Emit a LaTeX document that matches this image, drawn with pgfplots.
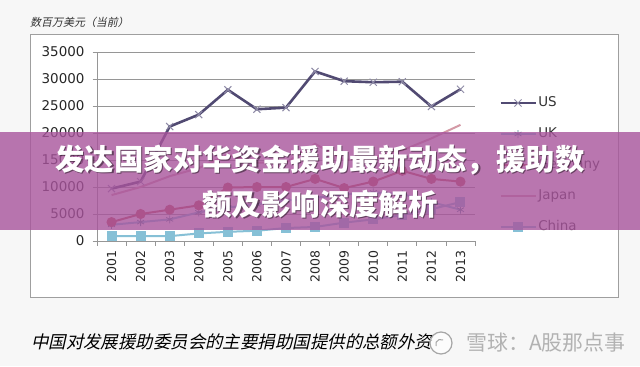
\documentclass[border=0pt]{standalone}
\usepackage{fontspec}
\usepackage{pgfplots}
\pgfplotsset{compat=1.18}
\setmainfont{DejaVu Sans}
\newfontfamily\cjk{Noto Sans CJK SC}
\newfontfamily\cjki{Noto Sans CJK SC}[FakeSlant=0.22]
\definecolor{bgc}{HTML}{F7F7F7}
\definecolor{usc}{HTML}{514A72}
\definecolor{usm}{HTML}{8E8AA6}
\definecolor{ukc}{HTML}{7CC3DA}
\definecolor{dec}{HTML}{C0504D}
\definecolor{jpc}{HTML}{D49AA6}
\definecolor{cnc}{HTML}{86C0D6}
\definecolor{bannerc}{HTML}{A8549C}
\definecolor{gridc}{HTML}{969696}
\begin{document}
\begin{tikzpicture}[x=1bp,y=1bp]
\fill[bgc] (0,0) rectangle (640,366);
\useasboundingbox (0,0) rectangle (640,366);
\draw[gray!75, fill=white, line width=0.8bp] (30,69) rectangle (618,332);
\node[anchor=west, inner sep=0, text=black!80, font=\cjki\fontsize{11}{12}\selectfont] at (30,344) {数百万美元（当前）};
\begin{axis}[
  at={(97bp,125bp)}, anchor=south west,
  scale only axis, width=378bp, height=189bp,
  xmin=-0.5, xmax=12.5, ymin=0, ymax=35000,
  axis x line*=bottom, axis y line*=left,
  axis line style={gridc, line width=0.8bp},
  ytick={0,5000,...,35000},
  minor ytick={0,5000,...,35000},
  scaled y ticks=false,
  /pgf/number format/1000 sep={},
  /pgf/number format/assume math mode=true,
  ymajorgrids, grid style={gridc, line width=0.8bp},
  xtick={0,...,12},
  xticklabels={2001,2002,2003,2004,2005,2006,2007,2008,2009,2010,2011,2012,2013},
  minor xtick={-0.5,0.5,...,12.5},
  tick align=outside,
  major tick length=0pt, minor tick length=4.5bp,
  tick style={gridc, line width=0.8bp},
  xticklabel style={rotate=90, anchor=east, text=black!85, font=\fontsize{12.5}{13}\selectfont},
  yticklabel style={text=black!85, font=\fontsize{13.5}{14}\selectfont},
  xticklabel shift=6bp,
  yticklabel shift=9bp,
  legend style={at={(axis description cs:1,0.402)}, anchor=west, xshift=24bp,
    draw=none, fill=none, inner sep=0pt, row sep=15bp,
    font=\fontsize{13.5}{14}\selectfont, text=black!80,
    nodes={inner sep=1.5bp, text height=10bp, text depth=3bp}},
  legend cell align=left,
  legend image code/.code={\draw[mark repeat=2,mark phase=2,#1] plot coordinates {(0bp,0bp) (17.5bp,0bp) (35bp,0bp)};},
]
\addplot[usc, line width=2.6bp, mark=x, mark size=5bp, mark options={usm, line width=1bp}]
  coordinates {(0,9700) (1,11000) (2,21200) (3,23400) (4,28000) (5,24400) (6,24700) (7,31400) (8,29600) (9,29400) (10,29500) (11,24900) (12,28100)};
\addlegendentry{US}
\addplot[ukc, line width=2bp, mark=asterisk, mark size=4bp, mark options={ukc!70!black, line width=0.8bp}]
  coordinates {(0,3000) (1,3500) (2,4000) (3,5300) (4,6200) (5,6800) (6,7500) (7,8000) (8,8600) (9,9000) (10,8700) (11,7200) (12,5800)};
\addlegendentry{UK}
\addplot[dec, line width=2bp, mark=*, mark size=4bp, mark options={fill=dec}]
  coordinates {(0,3500) (1,5000) (2,5800) (3,6600) (4,9900) (5,10000) (6,10000) (7,11500) (8,9800) (9,11000) (10,13000) (11,11500) (12,11000)};
\addlegendentry{Germany}
\addplot[jpc, line width=2bp]
  coordinates {(0,8500) (1,10000) (2,12000) (3,13500) (4,16000) (5,14500) (6,14500) (7,18000) (8,15000) (9,15500) (10,16800) (11,19000) (12,21500)};
\addlegendentry{Japan}
\addplot[cnc, line width=2bp, mark=square*, mark size=4bp, mark options={fill=cnc}]
  coordinates {(0,900) (1,900) (2,900) (3,1400) (4,1700) (5,1900) (6,2400) (7,2600) (8,3400) (9,4000) (10,4800) (11,5900) (12,7200)};
\addlegendentry{China}
\end{axis}
% banner overlay
\fill[bannerc, fill opacity=0.8] (0,136) rectangle (640,234);
\node[text=black, text opacity=0.45, font=\cjk\bfseries\fontsize{29.5}{31}\selectfont, align=center] at (321.2,183.3) {发达国家对华资金援助最新动态，援助数\\[14bp]额及影响深度解析};
\node[text=white, font=\cjk\bfseries\fontsize{29.5}{31}\selectfont, align=center] at (320,184.5) {发达国家对华资金援助最新动态，援助数\\[14bp]额及影响深度解析};
% caption
\node[anchor=west, inner sep=0, text=black, font=\cjki\fontsize{17.5}{18}\selectfont] at (31,24) {中国对发展援助委员会的主要捐助国提供的总额外资};
% watermark
\draw[gray!70, line width=1.2bp, fill=white, fill opacity=0.7] (441,23) circle (11);
\draw[gray!70, line width=1bp] (436,20) arc (200:60:5);
\node[text=gray!60, font=\cjk\fontsize{21}{22}\selectfont] at (546,23) {雪球：A股那点事};
\end{tikzpicture}
\end{document}
